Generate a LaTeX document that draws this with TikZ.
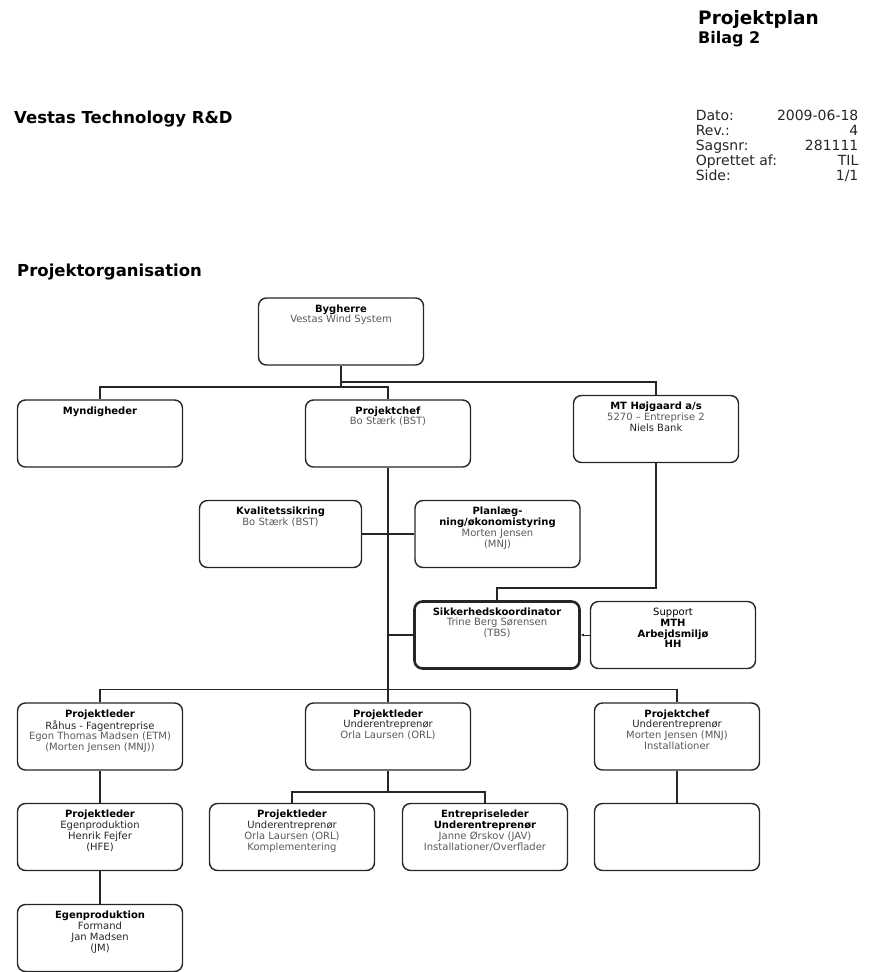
\documentclass[tikz,border=0pt]{standalone}
\usepackage{fontspec}
\setmainfont{DejaVu Sans}
\usetikzlibrary{positioning,arrows.meta,calc}

\begin{document}
\begin{tikzpicture}[x=1pt,y=-1pt,
    unit/.style={draw=black!85,line width=1.4pt,rounded corners=8pt,
      minimum width=165pt,minimum height=67pt,inner sep=0pt},
    safety/.style={unit,line width=2.6pt},
    txt/.style={anchor=north,align=center,inner sep=0pt,yshift=-7pt,
      font=\fontsize{10}{10.8}\selectfont,text=black!65},
    head/.style={anchor=west,inner sep=0pt,font=\fontsize{16.5}{18}\selectfont\bfseries},
    link/.style={draw=black!85,line width=1.6pt}]

    \useasboundingbox (0,0) rectangle (877,972);

    % the headers
    \node[head,anchor=base west,font=\fontsize{18.5}{20}\selectfont\bfseries] (titel) at (698,24) {Projektplan};
    \node[head,anchor=base west,font=\fontsize{16}{17}\selectfont\bfseries] (bilag) at (698,43) {Bilag 2};
    \node[anchor=north east,inner sep=0pt,font=\fontsize{14}{14.75}\selectfont,text=black!85] (dato) at (858,110)
      {\begin{tabular*}{162pt}{@{}l@{\extracolsep{\fill}}r@{}}
        Dato: & 2009-06-18\\
        Rev.: & 4\\
        Sagsnr: & 281111\\
        Oprettet af: & TIL\\
        Side: & 1/1
      \end{tabular*}};
    \node[head] (firma) at (14,119) {Vestas Technology R\&D};
    \node[head] (orga) at (17,272) {Projektorganisation};

    % the boxes
    \node[unit,label={[txt]north:{\textcolor{black}{\textbf{Bygherre}}\\Vestas Wind System}}] (byg) at (341,331.5) {};
    \node[unit,label={[txt]north:{\textcolor{black}{\textbf{Myndigheder}}}}] (myn) at (100,433.5) {};
    \node[unit,label={[txt]north:{\textcolor{black}{\textbf{Projektchef}}\\Bo Stærk (BST)}}] (pchef) at (388,433.5) {};
    \node[unit,label={[txt]north:{\textcolor{black}{\textbf{MT Højgaard a/s}}\\5270 – Entreprise 2\\\textcolor{black!85}{Niels Bank}}}] (mth) at (656,429) {};

    \node[unit,minimum width=162pt,label={[txt]north:{\textcolor{black}{\textbf{Kvalitetssikring}}\\Bo Stærk (BST)}}] (kval) at (280.5,534) {};
    \node[unit,label={[txt]north:{\textcolor{black}{\textbf{Planlæg-}}\\\textcolor{black}{\textbf{ning/økonomistyring}}\\Morten Jensen\\(MNJ)}}] (plan) at (497.5,534) {};

    \node[safety,label={[txt]north:{\textcolor{black}{\textbf{Sikkerhedskoordinator}}\\Trine Berg Sørensen\\(TBS)}}] (sik) at (497,635) {};
    \node[unit,label={[txt,text=black]north:{Support\\\textbf{MTH}\\\textbf{Arbejdsmiljø}\\\textbf{HH}}}] (sup) at (673,635) {};

    \node[unit,label={[txt]north:{\textcolor{black}{\textbf{Projektleder}}\\\textcolor{black!85}{Råhus - Fagentreprise}\\Egon Thomas Madsen (ETM)\\(Morten Jensen (MNJ))}}] (pl1) at (100,736.5) {};
    \node[unit,label={[txt]north:{\textcolor{black}{\textbf{Projektleder}}\\\textcolor{black!85}{Underentreprenør}\\Orla Laursen (ORL)}}] (pl2) at (388,736.5) {};
    \node[unit,label={[txt]north:{\textcolor{black}{\textbf{Projektchef}}\\\textcolor{black!85}{Underentreprenør}\\Morten Jensen (MNJ)\\Installationer}}] (pc3) at (677,736.5) {};

    \node[unit,label={[txt,text=black!85]north:{\textcolor{black}{\textbf{Projektleder}}\\Egenproduktion\\Henrik Fejfer\\(HFE)}}] (egp) at (100,837) {};
    \node[unit,label={[txt]north:{\textcolor{black}{\textbf{Projektleder}}\\\textcolor{black!85}{Underentreprenør}\\Orla Laursen (ORL)\\Komplementering}}] (kompl) at (292,837) {};
    \node[unit,label={[txt]north:{\textcolor{black}{\textbf{Entrepriseleder}}\\\textcolor{black}{\textbf{Underentreprenør}}\\Janne Ørskov (JAV)\\Installationer/Overflader}}] (entr) at (485,837) {};
    \node[unit] (tom) at (677,837) {};

    \node[unit,label={[txt,text=black!85]north:{\textcolor{black}{\textbf{Egenproduktion}}\\Formand\\Jan Madsen\\(JM)}}] (form) at (100,938) {};

    % the lines
    \draw[link] (byg.south) -- ++(0,21) coordinate (bt);
    \draw[link] (bt) -| (myn.north);
    \draw[link] (bt) -| (pchef.north);
    \draw[link] (byg.south) ++(0,16) -| (mth.north);

    \draw[link] (pchef.south) -- (pl2.north);
    \draw[link] (kval.east) -- (plan.west);
    \draw[link] (sik.west -| pchef.south) -- (sik.west);
    \draw[link] (mth.south) -- ++(0,125) -| (sik.north);
    \draw[link,line width=0.8pt,-{Latex[length=3pt,width=3pt]}] (sup.west) -- (sik.east);

    \draw[link] (pl2.north) ++(0,-13) coordinate (bus) -| (pl1.north);
    \draw[link] (bus) -| (pc3.north);

    \draw[link] (pl1.south) -- (egp.north);
    \draw[link] (pl2.south) -- ++(0,21) coordinate (m4);
    \draw[link] (m4) -| (kompl.north);
    \draw[link] (m4) -| (entr.north);
    \draw[link] (pc3.south) -- (tom.north);
    \draw[link] (egp.south) -- (form.north);

\end{tikzpicture}
\end{document}
